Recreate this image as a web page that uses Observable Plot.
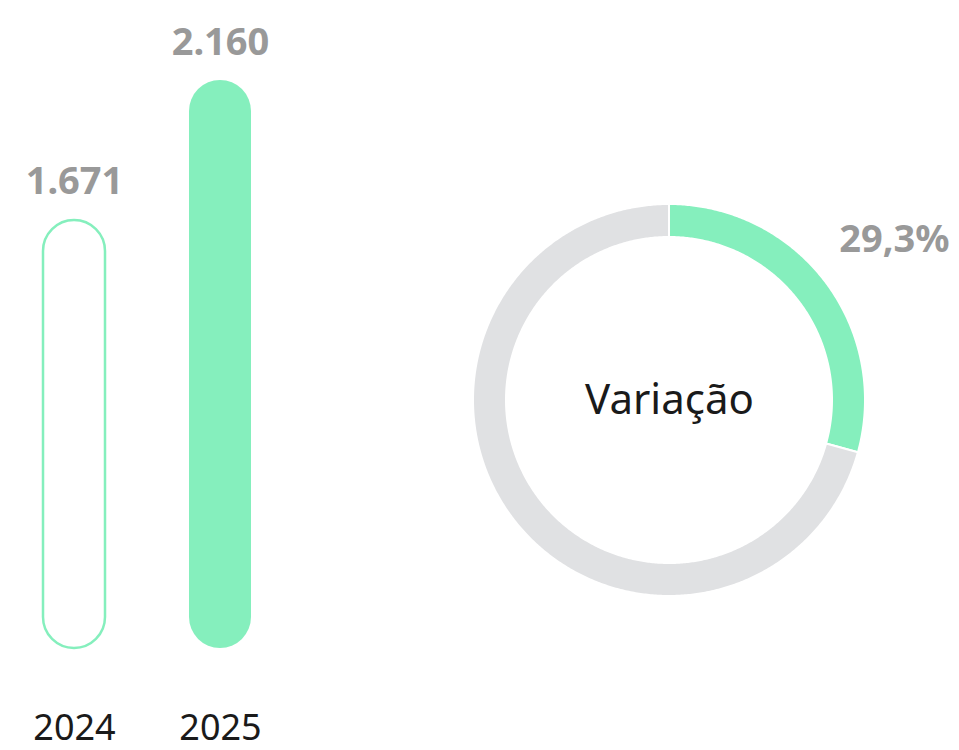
<!DOCTYPE html>
<html>
<head>
<meta charset="utf-8">
<script src="https://cdn.jsdelivr.net/npm/d3@7"></script>
<script src="https://cdn.jsdelivr.net/npm/@observablehq/plot@0.6"></script>
<style>
  html, body { margin: 0; padding: 0; background: #fff; }
  #chart { position: relative; width: 959px; height: 750px; font-family: "Noto Sans", sans-serif; }
  #chart svg { position: absolute; top: 0; left: 0; }
</style>
</head>
<body>
<div id="chart"></div>
<script>
// ---- data ----
const years = ["2024", "2025"];
const values = [1671, 2160];
const barStyles = ["outline", "filled"];
const variationLabel = "Variação";
const variationPct = 29.3;

// ---- colours ----
const green = "#85efbd";
const gray = "#e0e1e3";
const valueGray = "#999999";
const textDark = "#1a1a1a";

const ptBR = d3.formatLocale({decimal: ",", thousands: ".", grouping: [3]});
const fmtInt = ptBR.format(",d");
const fmtPct = ptBR.format(".1f");

const bars = years.map((y, i) => ({year: y, value: values[i], style: barStyles[i]}));
const yDomain = [176, 2160];

const barPlot = Plot.plot({
  width: 959,
  height: 750,
  margin: 0,
  x: {type: "band", domain: years, range: [42, 251], paddingInner: 0.578, paddingOuter: 0, axis: null},
  y: {domain: yDomain, range: [648, 80], axis: null},
  style: {fontFamily: "'Noto Sans', sans-serif", background: "transparent"},
  marks: [
    Plot.barY(bars, {
      x: "year", y1: yDomain[0], y2: "value",
      rx: 31, ry: 31,
      fill: d => d.style === "filled" ? green : "white",
      stroke: d => d.style === "filled" ? "none" : green,
      strokeWidth: 2.5,
      inset: 0
    }),
    Plot.text(bars, {
      x: "year", y: "value", text: d => fmtInt(d.value),
      lineAnchor: "bottom", dy: -26,
      fontSize: 38, fontWeight: "bold", fill: valueGray
    }),
    Plot.text(bars, {
      x: "year", text: "year", frameAnchor: "bottom",
      lineAnchor: "bottom", dy: -11,
      fontSize: 36, fill: textDark
    })
  ]
});

// ---- donut ----
const slices = [
  {name: "variação", value: variationPct, color: green},
  {name: "restante", value: 100 - variationPct, color: gray}
];
const rOuter = 1, rInner = 163 / 196;
let acc = 0;
const ringPts = [];
slices.forEach(s => {
  const a0 = acc / 100 * 2 * Math.PI;
  acc += s.value;
  const a1 = acc / 100 * 2 * Math.PI;
  const n = Math.max(2, Math.ceil((a1 - a0) / (Math.PI / 360)));
  for (let k = 0; k <= n; k++) {
    const a = a0 + (a1 - a0) * k / n;
    ringPts.push({
      slice: s.name, color: s.color,
      xo: rOuter * Math.sin(a), yo: rOuter * Math.cos(a),
      xi: rInner * Math.sin(a), yi: rInner * Math.cos(a)
    });
  }
});
const midA = (variationPct / 2) / 100 * 2 * Math.PI;
const labelR = 1.41;

const donutPlot = Plot.plot({
  width: 959,
  height: 750,
  margin: 0,
  x: {domain: [-1, 1], range: [669 - 196, 669 + 196], axis: null},
  y: {domain: [-1, 1], range: [400 + 196, 400 - 196], axis: null},
  style: {fontFamily: "'Noto Sans', sans-serif", background: "transparent"},
  marks: [
    Plot.area(ringPts, {
      x1: "xo", y1: "yo", x2: "xi", y2: "yi", z: "slice",
      fill: "color", stroke: "white", strokeWidth: 2
    }),
    Plot.text([variationLabel], {
      x: () => 0, y: () => 0, text: d => d,
      fontSize: 42, fill: textDark, lineAnchor: "middle"
    }),
    Plot.text([variationPct], {
      x: () => labelR * Math.sin(midA), y: () => labelR * Math.cos(midA),
      text: d => fmtPct(d) + "%", dx: 5, dy: 7,
      fontSize: 38, fontWeight: "bold", fill: valueGray, lineAnchor: "middle"
    })
  ]
});

const chart = document.getElementById("chart");
chart.appendChild(barPlot);
chart.appendChild(donutPlot);
</script>
</body>
</html>
